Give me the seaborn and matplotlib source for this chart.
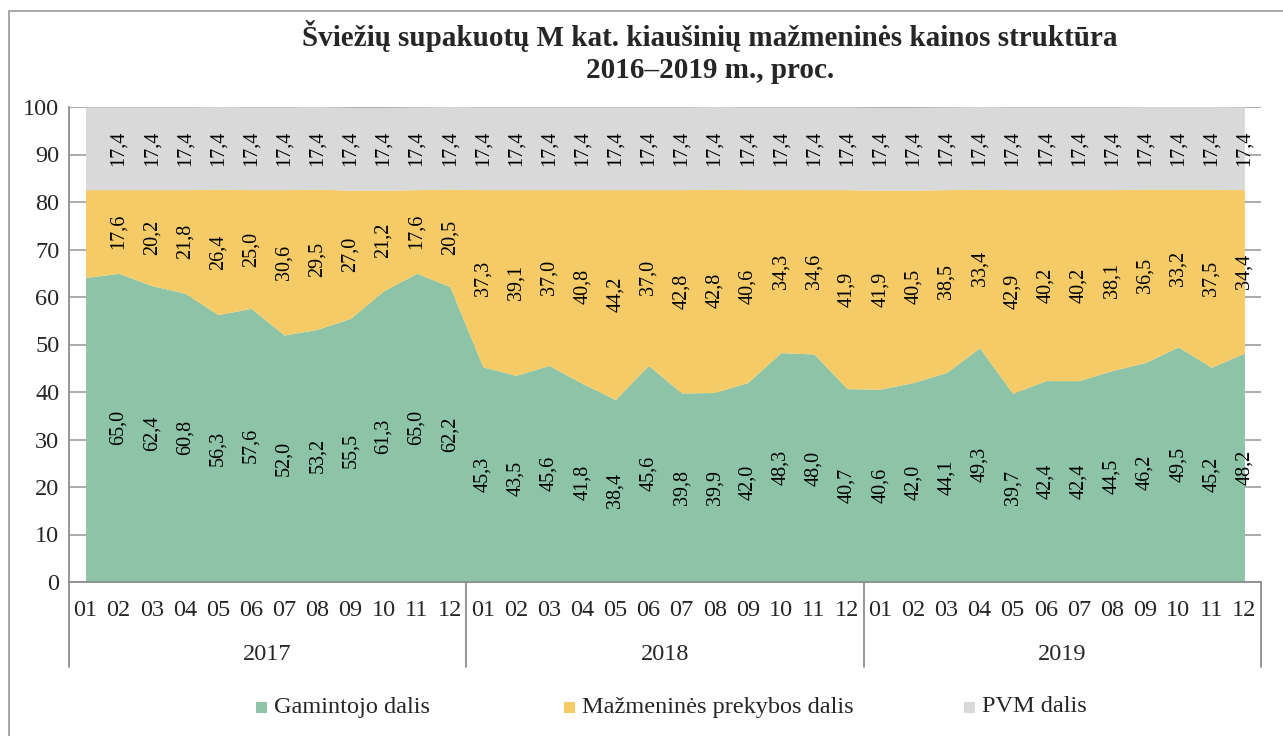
import numpy as np
import matplotlib
matplotlib.use("Agg")
import matplotlib.pyplot as plt
import matplotlib.transforms as mtransforms
from matplotlib.patches import Rectangle
import seaborn as sns

# ---- data ----
years = ["2017", "2018", "2019"]
months = ["01", "02", "03", "04", "05", "06", "07", "08", "09", "10", "11", "12"]
series_names = ["Gamintojo dalis", "Mažmeninės prekybos dalis", "PVM dalis"]

producer = [64.1, 65.0, 62.4, 60.8, 56.3, 57.6, 52.0, 53.2, 55.5, 61.3, 65.0, 62.2,
            45.3, 43.5, 45.6, 41.8, 38.4, 45.6, 39.8, 39.9, 42.0, 48.3, 48.0, 40.7,
            40.6, 42.0, 44.1, 49.3, 39.7, 42.4, 42.4, 44.5, 46.2, 49.5, 45.2, 48.2]
retail = [18.5, 17.6, 20.2, 21.8, 26.4, 25.0, 30.6, 29.5, 27.0, 21.2, 17.6, 20.5,
          37.3, 39.1, 37.0, 40.8, 44.2, 37.0, 42.8, 42.8, 40.6, 34.3, 34.6, 41.9,
          41.9, 40.5, 38.5, 33.4, 42.9, 40.2, 40.2, 38.1, 36.5, 33.2, 37.5, 34.4]
vat = [17.4] * 36
labelled = [False] + [True] * 35

title_line1 = "Šviežių supakuotų M kat. kiaušinių mažmeninės kainos struktūra"
title_line2 = "2016–2019 m., proc."

# ---- style ----
sns.set_theme(style="white")
plt.rcParams['font.family'] = ['Liberation Serif', 'DejaVu Serif']
colors = ["#8DC3A7", "#F4CB66", "#D9D9D9"]
axis_gray = "#8C8C8C"
fs = 17.5

W, H = 1283, 736
fig = plt.figure(figsize=(W / 100, H / 100), dpi=100)
fig.patch.set_facecolor("white")

left_px, right_px, top_px, bot_px = 69, 1261, 107, 582
ax = fig.add_axes([left_px / W, 1 - bot_px / H, (right_px - left_px) / W, (bot_px - top_px) / H])

x = np.arange(len(producer))
ax.stackplot(x, producer, retail, vat, colors=colors, linewidth=0, zorder=2)
ax.set_xlim(-0.5, len(producer) - 0.5)
ax.set_ylim(0, 100)
ax.set_yticks(range(0, 101, 10))
ax.yaxis.grid(True, color="#A6A6A6", lw=1.3)
ax.set_axisbelow(True)
ax.tick_params(axis="y", length=0, pad=7, labelsize=fs)
ax.set_xticks([])
for s in ["top", "right"]:
    ax.spines[s].set_visible(False)
for s in ["left", "bottom"]:
    ax.spines[s].set_color(axis_gray)
    ax.spines[s].set_linewidth(1.3)

# data labels
def fmt(v):
    return f"{v:.1f}".replace(".", ",")

for i in range(len(producer)):
    if not labelled[i]:
        continue
    g, r, v = producer[i], retail[i], vat[i]
    for val, yc in [(g, g / 2), (r, g + r / 2), (v, g + r + v / 2)]:
        ax.text(i, yc, fmt(val), rotation=90, ha="center", va="center",
                fontsize=14.5, color="black", zorder=5)

# multi-level category axis
trans = mtransforms.blended_transform_factory(ax.transData, ax.transAxes)
axh = bot_px - top_px
for yi, yr in enumerate(years):
    for mi, m in enumerate(months):
        ax.text(yi * 12 + mi, -28 / axh, m, transform=trans, ha="center", va="center",
                fontsize=fs, clip_on=False)
    ax.text(yi * 12 + 5.5, -73 / axh, yr, transform=trans, ha="center", va="center",
            fontsize=fs, clip_on=False)
for b in [-0.5, 11.5, 23.5, 35.5]:
    ax.plot([b, b], [0, -85 / axh], transform=trans, color=axis_gray, lw=1.3,
            clip_on=False)

# title
fig.text(710 / W, 1 - 36 / H, title_line1, ha="center", va="center",
         fontsize=21, fontweight="bold")
fig.text(710 / W, 1 - 71 / H, title_line2, ha="center", va="center",
         fontsize=21, fontweight="bold")

# legend
leg_x = [262, 570, 970]
leg_y = 707
for name, c, lx in zip(series_names, colors, leg_x):
    fig.patches.append(Rectangle(((lx - 6) / W, 1 - (leg_y + 6) / H), 11 / W, 11 / H,
                                 transform=fig.transFigure, facecolor=c, edgecolor="none"))
    fig.text((lx + 12) / W, 1 - leg_y / H, name, ha="left", va="center", fontsize=fs)

# outer border
fig.patches.append(Rectangle((8.5 / W, -0.05), 1.2, 1 - 10.5 / H + 0.05,
                             transform=fig.transFigure, facecolor="none",
                             edgecolor="#A0A0A0", lw=1.3))

fig.savefig("out.png", dpi=100)
